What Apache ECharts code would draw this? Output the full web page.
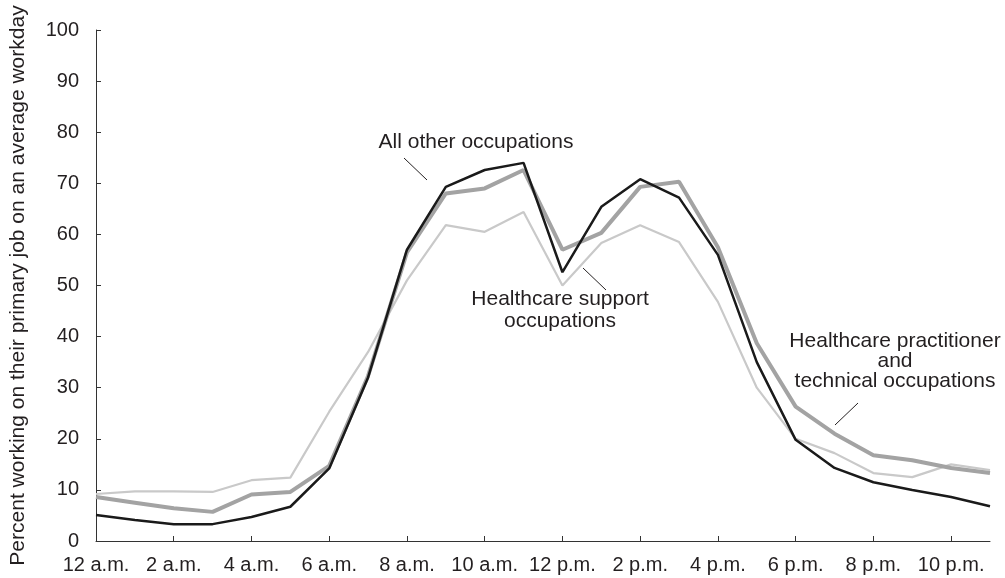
<!DOCTYPE html>
<html>
<head>
<meta charset="utf-8">
<script src="https://cdn.jsdelivr.net/npm/echarts@6/dist/echarts.min.js"></script>
<style>
  html, body { margin: 0; padding: 0; background: #fff; }
  #container { width: 1005px; height: 578px; }
</style>
</head>
<body>
<div id="container"></div>
<script>
var hours = ['12 a.m.','1 a.m.','2 a.m.','3 a.m.','4 a.m.','5 a.m.','6 a.m.','7 a.m.','8 a.m.','9 a.m.','10 a.m.','11 a.m.',
             '12 p.m.','1 p.m.','2 p.m.','3 p.m.','4 p.m.','5 p.m.','6 p.m.','7 p.m.','8 p.m.','9 p.m.','10 p.m.','11 p.m.'];
// percent working, by hour of day
var allOther     = [5.1, 4.1, 3.3, 3.3, 4.7, 6.7, 14.2, 32, 57, 69.3, 72.6, 74, 52.6, 65.4, 70.8, 67.2, 56, 35, 19.8, 14.3, 11.5, 10, 8.6, 6.8];
var hcSupport    = [9.2, 9.7, 9.7, 9.6, 11.9, 12.4, 25.3, 37, 51, 61.8, 60.5, 64.4, 50, 58.3, 61.8, 58.5, 46.8, 30, 20, 17.2, 13.3, 12.5, 15, 13.9];
var hcPractition = [8.6, 7.5, 6.4, 5.7, 9.1, 9.6, 14.7, 32.3, 56.5, 68, 69, 72.6, 57, 60.3, 69.3, 70.3, 57.5, 38.7, 26.3, 21, 16.8, 15.8, 14.3, 13.3];
var yTicks = [0, 100, 10];

var dom = document.getElementById('container');
var myChart = echarts.init(dom);
var txt = '#231f20';
var fontFam = '"Liberation Sans", Arial, sans-serif';

option = {
    animation: false,
    grid: { left: 93, right: 15, top: 30, bottom: 37 },
    xAxis: {
        type: 'category',
        data: hours,
        boundaryGap: false,
        axisLine: { lineStyle: { color: '#333', width: 1 } },
        axisTick: { inside: true, interval: 1, length: 5, lineStyle: { color: '#333' } },
        axisLabel: { interval: 1, color: txt, fontSize: 20, fontFamily: fontFam, margin: 14 },
        splitLine: { show: false }
    },
    yAxis: {
        type: 'value',
        min: yTicks[0], max: yTicks[1], interval: yTicks[2],
        name: 'Percent working on their primary job on an average workday',
        nameLocation: 'middle',
        nameGap: 67,
        nameTextStyle: { color: txt, fontSize: 21, fontFamily: fontFam },
        axisLine: { show: true, lineStyle: { color: '#333', width: 1 } },
        axisTick: { show: true, inside: true, length: 5, lineStyle: { color: '#333' } },
        axisLabel: { color: txt, fontSize: 20, fontFamily: fontFam, margin: 17 },
        splitLine: { show: false }
    },
    series: [
        {
            name: 'Healthcare support occupations',
            type: 'line', data: hcSupport, symbol: 'none',
            lineStyle: { color: '#c9c9c9', width: 2.2 }
        },
        {
            name: 'Healthcare practitioner and technical occupations',
            type: 'line', data: hcPractition, symbol: 'none',
            lineStyle: { color: '#a3a3a3', width: 4 }
        },
        {
            name: 'All other occupations',
            type: 'line', data: allOther, symbol: 'none',
            lineStyle: { color: '#1a1a1a', width: 2.5 }
        }
    ],
    graphic: [
        { type: 'text', x: 476, y: 132, style: { text: 'All other occupations', fill: txt, font: '21px ' + fontFam, align: 'center', verticalAlign: 'top' } },
        { type: 'line', shape: { x1: 404, y1: 158, x2: 427, y2: 180 }, style: { stroke: '#231f20', lineWidth: 1 } },
        { type: 'text', x: 560, y: 288, style: { text: 'Healthcare support\noccupations', fill: txt, font: '21px ' + fontFam, align: 'center', verticalAlign: 'top', lineHeight: 22 } },
        { type: 'line', shape: { x1: 583, y1: 268, x2: 606, y2: 290 }, style: { stroke: '#231f20', lineWidth: 1 } },
        { type: 'text', x: 895, y: 331, style: { text: 'Healthcare practitioner\nand\ntechnical occupations', fill: txt, font: '21px ' + fontFam, align: 'center', verticalAlign: 'top', lineHeight: 20 } },
        { type: 'line', shape: { x1: 858, y1: 403, x2: 835, y2: 425 }, style: { stroke: '#231f20', lineWidth: 1 } }
    ]
};

if (option && typeof option === 'object') {
    myChart.setOption(option, true);
}
</script>
</body>
</html>
